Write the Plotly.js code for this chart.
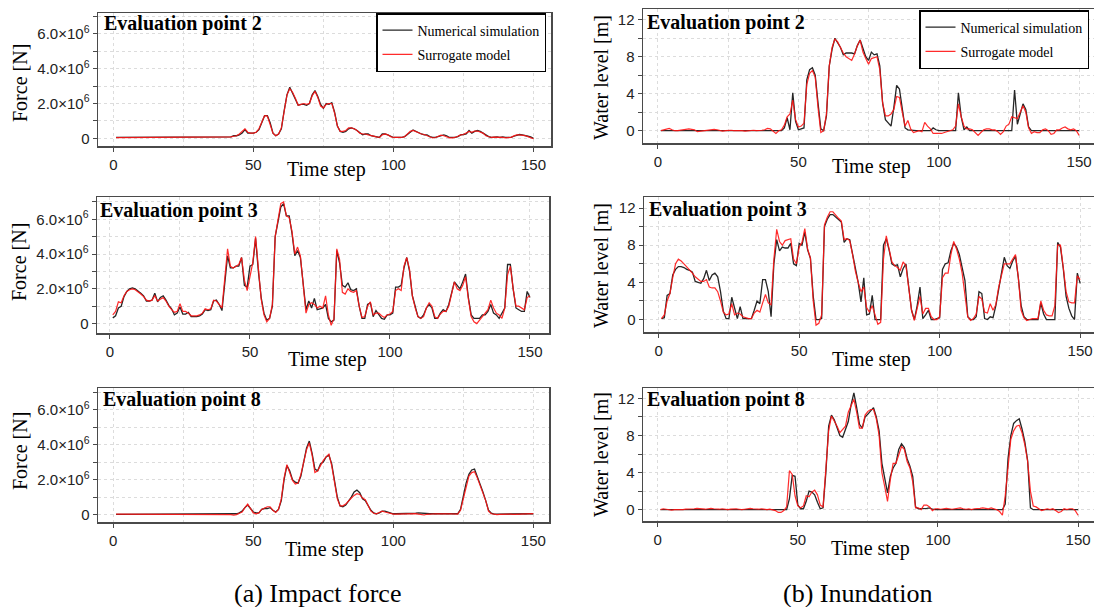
<!DOCTYPE html>
<html><head><meta charset="utf-8">
<script src="https://cdn.plot.ly/plotly-3.0.1.min.js"></script>
<style>html,body{margin:0;padding:0;overflow:hidden;background:#fff}#chart{width:1100px;height:607px}</style>
</head><body><div id="chart"></div><script>
// time steps 1..150 (index of the simulation output)
const timeSteps = Array.from({length:150},(_,i)=>i+1);

// ---- Impact force (units: 10^6 N) ----
const forceEP2_num = [0.05,0.05,0.05,0.05,0.05,0.05,0.05,0.05,0.05,0.05,
 0.05,0.05,0.05,0.06,0.06,0.07,0.07,0.07,0.06,0.06,
 0.05,0.05,0.05,0.05,0.05,0.04,0.04,0.04,0.05,0.05,
 0.05,0.05,0.05,0.05,0.05,0.05,0.05,0.05,0.05,0.06,
 0.07,0.08,0.15,0.15,0.2,0.3,0.5,0.3,0.3,0.3,
 0.35,0.5,0.9,1.3,1.3,0.9,0.3,0.15,0.25,0.55,
 1.6,2.5,2.93,2.6,2.2,1.9,1.95,1.95,1.9,2.0,
 2.5,2.74,2.4,1.95,1.72,2.0,1.95,2.05,1.5,0.7,
 0.4,0.35,0.4,0.55,0.6,0.55,0.45,0.3,0.2,0.25,
 0.25,0.15,0.12,0.1,0.05,0.25,0.25,0.2,0.1,0.05,
 0.05,0.05,0.05,0.1,0.2,0.35,0.48,0.4,0.3,0.25,
 0.2,0.2,0.1,0.05,0.05,0.1,0.15,0.2,0.15,0.05,
 0.05,0.05,0.1,0.2,0.22,0.25,0.45,0.3,0.4,0.45,
 0.4,0.3,0.15,0.1,0.05,0.08,0.08,0.05,0.08,0.05,
 0.05,0.05,0.12,0.18,0.22,0.2,0.18,0.12,0.08,0.0];
const forceEP2_sur = [0.04,0.04,0.04,0.05,0.05,0.05,0.04,0.04,0.05,0.05,
 0.05,0.05,0.06,0.06,0.07,0.07,0.07,0.06,0.06,0.05,
 0.05,0.05,0.05,0.04,0.04,0.04,0.04,0.05,0.05,0.05,
 0.05,0.05,0.04,0.04,0.05,0.05,0.05,0.05,0.05,0.06,
 0.07,0.08,0.12,0.15,0.25,0.4,0.55,0.35,0.3,0.3,
 0.35,0.55,0.95,1.3,1.28,0.85,0.3,0.15,0.25,0.6,
 1.7,2.5,2.85,2.65,2.3,1.9,1.95,2.0,1.95,2.0,
 2.45,2.7,2.35,1.85,1.75,1.95,2.0,2.0,1.45,0.7,
 0.4,0.4,0.45,0.6,0.6,0.55,0.45,0.3,0.25,0.25,
 0.2,0.15,0.12,0.08,0.05,0.2,0.25,0.2,0.1,0.05,
 0.05,0.05,0.05,0.1,0.25,0.4,0.45,0.38,0.3,0.25,
 0.22,0.15,0.08,0.02,0.05,0.12,0.18,0.15,0.1,0.03,
 0.03,0.05,0.12,0.2,0.22,0.3,0.4,0.35,0.42,0.42,
 0.38,0.3,0.15,0.08,0.05,0.07,0.08,0.06,0.06,0.03,
 0.03,0.06,0.14,0.2,0.2,0.2,0.16,0.1,0.05,-0.02];
const forceEP3_num = [0.33,0.45,0.9,1.0,1.55,1.85,2.0,2.05,2.0,1.9,
 1.75,1.6,1.3,1.3,1.35,1.75,1.25,1.5,1.6,1.35,
 1.05,0.85,0.5,0.6,0.95,0.55,0.55,0.65,0.4,0.4,
 0.4,0.45,0.55,0.8,0.75,0.8,1.3,1.35,1.1,0.75,
 2.5,3.9,3.2,3.2,3.3,3.3,3.8,2.2,2.1,3.3,
 3.4,4.9,3.0,1.5,0.6,0.2,0.3,1.0,5.0,5.8,
 6.7,6.9,6.2,6.2,5.2,3.9,4.2,3.8,2.3,0.8,
 1.3,0.9,1.45,0.8,0.85,0.9,1.1,0.3,0.1,0.2,
 4.2,3.5,2.2,2.1,2.35,1.95,1.9,2.0,1.0,0.3,
 0.3,1.1,1.2,0.4,0.75,0.55,0.3,0.25,0.5,0.5,
 0.6,2.1,2.1,2.2,3.2,3.8,3.0,1.6,1.0,0.4,
 0.3,0.5,0.9,1.1,0.9,0.3,0.3,0.6,0.8,0.7,
 1.1,1.7,2.4,2.2,2.0,2.4,2.85,1.5,0.5,0.3,
 0.3,0.3,0.5,0.5,0.7,1.1,0.6,0.5,0.3,0.6,
 0.9,3.4,3.4,2.0,0.9,0.8,0.7,0.7,1.85,1.5];
const forceEP3_sur = [0.5,0.7,1.25,1.2,1.6,1.85,1.95,2.0,1.95,1.85,
 1.7,1.55,1.35,1.3,1.35,1.6,1.3,1.4,1.5,1.3,
 1.0,0.8,0.65,0.7,1.15,0.7,0.7,0.6,0.45,0.45,
 0.45,0.5,0.6,0.85,0.8,0.85,1.35,1.3,1.1,0.9,
 2.6,4.3,3.3,3.2,3.3,3.4,3.8,2.5,1.9,2.8,
 3.5,5.0,3.1,1.4,0.5,0.1,0.3,1.1,5.0,5.9,
 6.9,7.0,6.2,6.1,5.3,4.0,4.4,3.9,2.2,0.6,
 1.1,1.2,1.1,0.9,1.0,0.9,1.6,0.5,-0.1,0.3,
 4.3,3.7,1.8,1.7,2.0,1.85,1.8,1.9,1.0,0.35,
 0.4,1.0,1.25,0.5,0.6,0.6,0.45,0.35,0.5,0.55,
 0.7,1.9,2.0,1.9,3.3,3.8,3.1,1.6,0.9,0.4,
 0.3,0.4,0.9,1.2,1.0,0.4,0.3,0.55,0.7,0.7,
 1.0,1.7,2.4,2.0,1.9,2.2,2.7,1.4,0.4,0.1,
 0.0,0.2,0.4,0.6,0.8,1.35,0.9,0.6,0.5,0.3,
 0.9,2.8,3.3,2.0,1.0,1.0,0.9,0.8,1.5,1.6];
const forceEP8_num = [0.02,0.02,0.02,0.02,0.02,0.02,0.02,0.02,0.02,0.02,
 0.02,0.02,0.02,0.02,0.02,0.03,0.03,0.03,0.02,0.02,
 0.02,0.02,0.02,0.02,0.02,0.02,0.02,0.02,0.02,0.02,
 0.02,0.02,0.02,0.02,0.02,0.02,0.02,0.02,0.02,0.02,
 0.02,0.02,0.03,0.05,0.1,0.2,0.4,0.55,0.35,0.15,
 0.1,0.1,0.3,0.35,0.35,0.4,0.25,0.15,0.3,0.8,
 2.0,2.8,2.5,2.0,1.85,1.8,2.2,3.0,3.8,4.2,
 3.5,2.6,2.5,2.9,3.0,3.3,3.4,2.9,2.0,1.0,
 0.5,0.45,0.55,0.75,1.0,1.3,1.4,1.25,0.9,0.8,
 0.5,0.25,0.1,0.05,0.1,0.2,0.2,0.15,0.08,0.05,
 0.05,0.05,0.05,0.05,0.05,0.05,0.06,0.08,0.1,0.08,
 0.05,0.05,0.05,0.05,0.05,0.05,0.05,0.05,0.05,0.05,
 0.05,0.05,0.05,0.3,1.0,1.8,2.3,2.55,2.6,2.2,
 1.7,1.3,0.8,0.25,0.08,0.03,0.03,0.03,0.03,0.03,
 0.03,0.03,0.03,0.03,0.03,0.03,0.03,0.04,0.04,0.05];
const forceEP8_sur = [0.03,0.03,0.02,0.02,0.03,0.03,0.02,0.02,0.02,0.03,
 0.03,0.02,0.02,0.03,0.03,0.03,0.04,0.03,0.03,0.02,
 0.02,0.02,0.03,0.03,0.02,0.02,0.02,0.03,0.03,0.02,
 0.02,0.03,0.03,0.02,0.02,0.02,0.03,0.03,0.02,0.02,
 0.02,0.0,-0.03,0.0,0.08,0.15,0.4,0.6,0.35,0.1,
 0.05,0.1,0.3,0.4,0.45,0.45,0.25,0.12,0.3,0.9,
 2.1,2.85,2.45,1.95,1.75,1.8,2.3,3.1,3.7,4.1,
 3.4,2.4,2.5,2.8,3.1,3.3,3.45,2.8,1.9,0.9,
 0.5,0.5,0.6,0.8,0.95,1.1,1.2,1.15,0.95,0.85,
 0.5,0.2,0.08,0.05,0.12,0.2,0.15,0.1,0.05,0.03,
 0.03,0.04,0.05,0.05,0.04,0.04,0.06,0.06,0.03,0.0,
 -0.02,0.02,0.04,0.05,0.05,0.04,0.03,0.03,0.04,0.05,
 0.04,0.03,0.03,0.25,0.9,1.7,2.2,2.4,2.45,2.1,
 1.7,1.3,0.8,0.2,0.05,0.03,0.0,0.02,0.03,0.03,
 0.04,0.03,0.02,0.03,0.04,0.04,0.05,0.05,0.05,0.06];

// ---- Inundation (water level, m) ----
const waterEP2_num = [0,0,0,0,0,0,0,0,0,0,
 0,0,0,0,0,0,0,0,0,0,
 0,0,0,0,0,0,0,0,0,0,
 0,0,0,0,0,0,0,0,0,0,
 0,0,0,0,0.3,1.4,0.1,4.1,1.0,0.1,
 0.2,0.3,5.5,6.6,6.8,6.0,3.0,0.2,0,1.6,
 7.0,8.8,10.0,9.5,9.0,8.2,8.4,8.4,8.4,8.3,
 9.2,9.8,8.9,8.0,7.6,8.5,8.2,8.3,7.0,3.0,
 1.2,0.8,0.5,2.5,4.9,4.5,2.2,0.3,0.1,0.05,
 0,0,0,0,0,0,0,0.3,0.1,0,
 0,0,0,0,0,0,4.1,1.5,0.1,0.4,
 0,0,0,0,0,0,0,0,0,0,
 0,0,0,0,0,0,4.4,0.7,1.8,2.9,
 2.3,0.4,0,0,0,0,0,0,0,0,
 0,0,0,0,0,0,0,0,0,0];
const waterEP2_sur = [0,0.1,0.2,0.25,0.1,0,0,0.05,0.1,0.15,
 0.2,0.15,0.1,-0.1,-0.05,0,0.05,0.05,0.1,0.15,
 0.1,0.05,-0.05,0,0.05,0.05,0,0,0.05,0,
 -0.05,0,0.05,0.05,0,0,0.05,0.1,0.25,0.2,
 -0.1,-0.3,0,0.1,0.6,1.5,1.8,3.3,1.2,0.4,
 0.5,0.8,5.0,6.2,6.5,5.8,2.5,-0.2,0.0,1.8,
 7.0,9.0,9.9,9.6,9.0,8.4,8.0,7.8,7.6,8.3,
 9.2,9.8,8.5,7.8,7.2,7.8,7.9,8.0,6.6,3.0,
 1.6,1.6,1.8,2.3,3.7,3.6,2.0,0.5,1.1,0.2,
 -0.2,-0.1,0,-0.1,0.9,0.5,0.2,-0.3,-0.3,-0.3,
 -0.3,-0.2,-0.1,0,0.1,0.5,2.9,1.5,0.5,0.2,
 0.2,0.1,-0.2,-0.5,-0.2,0.1,0.2,0.2,0.1,0.1,
 -0.1,-0.4,-0.1,0.5,0.7,1.5,1.4,1.3,2.0,2.7,
 2.0,0.3,-0.3,-0.1,-0.2,-0.2,0.1,0.2,0,-0.4,
 -0.3,0.1,0.1,0.3,0.4,0.2,0.1,0.2,0,-0.5];
const waterEP3_num = [0.1,0.2,2.6,2.8,4.8,5.4,5.7,5.7,5.6,5.4,
 5.3,5.1,4.1,4.0,3.9,4.4,5.3,4.2,4.8,5.0,
 4.6,3.0,0.9,0.1,0.1,2.4,1.2,0.1,1.4,0.1,
 0.1,0.1,0.1,1.0,2.0,1.7,4.3,4.3,3.0,0.3,
 6.0,8.6,7.4,7.8,7.7,7.7,8.2,6.0,5.8,8.2,
 8.0,9.4,7.5,6.6,2.5,0.0,0.0,0.1,10.0,10.8,
 11.3,11.3,11.0,10.8,10.5,8.3,8.7,8.6,7.0,5.3,
 4.0,1.9,4.5,0.5,0.6,2.6,0.0,0.0,0.0,8.0,
 8.7,7.5,6.0,5.8,5.9,4.6,5.5,6.0,3.4,1.0,
 0.0,1.5,3.5,0.1,0.5,1.0,0.0,0.0,0.1,0.2,
 5.4,6.0,6.1,7.4,8.2,7.8,7.0,5.5,4.2,0.3,
 0.0,0.0,0.3,3.0,2.8,0.1,0.0,0.3,0.2,1.5,
 3.5,5.0,6.7,5.8,5.5,6.3,6.8,4.5,1.5,0.3,
 0.0,0.0,0.0,0.0,0.0,1.8,0.6,0.0,0.0,0.0,
 0.0,8.3,7.8,5.5,2.5,1.2,0.4,0.0,5.0,3.9];
const waterEP3_sur = [0.1,0.5,2.0,2.8,4.5,6.0,6.5,6.3,6.0,5.7,
 5.4,5.0,4.6,4.3,4.1,4.1,4.3,3.5,3.4,3.4,
 3.0,2.0,0.8,0.5,0.6,1.7,0.5,0.7,0.6,0.3,
 0.2,0.1,0.1,0.7,1.0,0.8,1.8,2.7,1.8,1.6,
 6.5,9.7,8.4,8.0,8.5,8.6,8.7,6.5,6.0,7.8,
 8.3,9.8,7.6,6.6,2.0,-0.6,-0.4,0.5,10.2,11.0,
 11.6,11.6,11.2,10.9,10.6,8.6,8.7,8.5,7.0,5.2,
 4.0,3.0,3.5,1.3,0.8,1.5,0.5,-0.5,-0.3,6.5,
 9.0,7.5,6.2,5.8,5.6,5.3,6.2,5.8,3.4,1.0,
 -0.1,1.2,2.5,0.6,1.2,1.2,0.3,0.0,0.0,0.3,
 4.5,5.0,5.0,7.0,8.4,7.6,6.5,5.0,2.5,0.3,
 -0.1,0.1,0.6,2.5,2.2,0.8,0.7,1.7,1.0,1.6,
 3.5,4.8,6.0,6.0,6.0,6.5,7.0,4.5,1.0,0.2,
 -0.1,0.0,0.1,0.1,0.1,2.0,1.0,0.5,0.4,0.4,
 1.5,8.0,8.0,5.6,3.0,1.9,1.8,1.8,4.7,4.3];
const waterEP8_num = [0,0,0,0,0,0,0,0,0,0,
 0,0,0,0,0,0,0,0,0,0,
 0,0,0,0,0,0,0,0,0,0,
 0,0,0,0,0,0,0,0,0,0,
 0,0,0,0,0,0,1.2,3.7,3.6,0.5,
 0.1,0.1,0.9,2.0,1.9,1.6,0.8,0.1,0.2,4.0,
 9.0,10.2,9.7,8.8,8.0,7.8,8.7,9.5,11.3,12.6,
 11.0,9.2,8.8,10.0,10.3,10.7,11.0,10.0,8.5,5.0,
 3.2,1.8,3.6,4.5,5.0,6.5,7.1,6.7,5.5,4.7,
 3.6,0.3,0.1,0.1,0.1,0.15,0.2,0.05,0,0,
 0,0,0,0,0,0,0,0,0,0,
 0,0,0,0,0,0,0,0,0,0,
 0,0,0,0.6,5.5,8.0,9.3,9.6,9.8,8.7,
 7.3,5.3,0.2,0,0,0,0,0,0,0,
 0,0,0,0,0,0,0,0,0,0];
const waterEP8_sur = [0.0,0.1,0.05,0.0,-0.05,0.0,0.0,-0.05,0.0,0.05,
 0.05,0.1,0.1,0.15,0.1,0.1,0.05,0.1,0.15,0.1,
 0.05,0.05,0.1,0.05,0.0,0.05,0.1,0.1,0.05,0.0,
 0.05,0.1,0.15,0.1,0.05,0.05,0.1,0.05,0.0,0.05,
 0.0,-0.1,-0.3,-0.3,-0.1,0.3,4.2,3.8,1.5,0.4,
 0.2,0.4,1.5,1.4,1.9,2.1,1.6,0.5,0.3,4.0,
 8.5,10.1,9.6,9.0,8.3,8.6,9.0,10.5,11.3,11.9,
 10.5,8.8,8.8,10.2,10.6,10.8,10.8,9.8,8.0,4.0,
 2.5,0.9,3.2,5.0,5.0,6.0,6.8,6.5,5.2,4.5,
 3.0,0.2,0.2,0.0,0.5,0.5,0.3,-0.1,0.1,0.1,
 0.05,0.1,0.15,0.1,0.05,0.1,0.15,0.2,0.1,0.05,
 0.1,0.0,0.1,0.1,0.15,0.2,0.15,0.1,0.2,0.1,
 0.0,-0.2,-0.6,1.5,5.0,7.6,8.5,9.0,9.1,8.3,
 7.0,5.2,2.0,0.4,0.3,0.1,-0.1,0.0,0.1,0.0,
 0.1,-0.1,-0.3,-0.2,0.1,0.0,0.1,0.1,-0.1,-0.6];

// ---- labels ----
const panelTitles = ['Evaluation point 2','Evaluation point 2','Evaluation point 3','Evaluation point 3','Evaluation point 8','Evaluation point 8'];
const seriesNames = ['Numerical simulation','Surrogate model'];
const xTitle = 'Time step';
const yTitles = ['Force [N]','Water level [m]'];
const stepTickVals = [0,50,100,150];
const forceTickVals = [0,2e6,4e6,6e6];
const forceTickText = ['0','2.0×10<sup>6</sup>','4.0×10<sup>6</sup>','6.0×10<sup>6</sup>'];
const waterTickVals = [0,4,8,12];
const captions = ['(a) Impact force','(b) Inundation'];

const W = 1100, H = 607;
const xd = (a,b)=>[a/W,b/W];
const yd = (t,b)=>[1-b/H,1-t/H];
const serif = 'Liberation Serif, Times New Roman, serif';
const sans = 'Liberation Sans, Arial, sans-serif';
const MN = arr=>arr.map(v=>v*1e6);
const LINE = '#4a4a4a', GRID = '#dcdcdc';

function xAxis(dom, range, anchor){
  return {domain:dom, range:range, anchor:anchor, showline:true, mirror:true, linecolor:LINE, linewidth:1.5,
    ticks:'outside', ticklen:4, tickcolor:LINE, tickmode:'array', tickvals:stepTickVals,
    tickfont:{family:sans,size:15,color:'#222'}, showgrid:true, gridcolor:GRID, griddash:'dot', gridwidth:1,
    zeroline:false, fixedrange:true,
    minor:{tickmode:'array', tickvals:[25,75,125], showgrid:true, gridcolor:GRID, griddash:'dot', ticks:''}};
}
function yAxis(dom, range, anchor, isForce){
  return {domain:dom, range:range, anchor:anchor, showline:true, mirror:true, linecolor:LINE, linewidth:1.5,
    ticks:'outside', ticklen:4, tickcolor:LINE, tickmode:'array',
    tickvals: isForce ? forceTickVals : waterTickVals,
    ticktext: isForce ? forceTickText : waterTickVals.map(String),
    tickfont:{family:sans,size:15,color:'#222'}, showgrid:true, gridcolor:GRID, griddash:'dot', gridwidth:1,
    zeroline:false, fixedrange:true,
    minor:{tickmode:'array', tickvals: isForce ? [1e6,3e6,5e6,7e6] : [2,6,10], ticks:'outside', ticklen:4, tickcolor:LINE,
      showgrid:true, gridcolor:GRID, griddash:'dot'}};
}

const panels = [
  {num:MN(forceEP2_num), sur:MN(forceEP2_sur), ax:'', leg:'legend'},
  {num:waterEP2_num, sur:waterEP2_sur, ax:'2', leg:'legend2'},
  {num:MN(forceEP3_num), sur:MN(forceEP3_sur), ax:'3', leg:null},
  {num:waterEP3_num, sur:waterEP3_sur, ax:'4', leg:null},
  {num:MN(forceEP8_num), sur:MN(forceEP8_sur), ax:'5', leg:null},
  {num:waterEP8_num, sur:waterEP8_sur, ax:'6', leg:null}
];
const traces = [];
panels.forEach((p,i)=>{
  const base = {x:timeSteps, xaxis:'x'+p.ax, yaxis:'y'+p.ax, mode:'lines', hoverinfo:'skip'};
  traces.push(Object.assign({}, base, {y:p.num, name:seriesNames[0], line:{color:'#262626',width:1.3},
    showlegend:!!p.leg, legend:p.leg||'legend', legendgroup:'n'+i}));
  traces.push(Object.assign({}, base, {y:p.sur, name:seriesNames[1], line:{color:'#ff1414',width:1.2}, opacity:0.9,
    showlegend:!!p.leg, legend:p.leg||'legend', legendgroup:'s'+i}));
});

const legendStyle = {xanchor:'left', yanchor:'top', bordercolor:'#000', borderwidth:1.5, bgcolor:'#fff',
  font:{family:serif,size:14,color:'#000'}, traceorder:'grouped', tracegroupgap:3, itemclick:false, itemdoubleclick:false};

const ann = (text,x,y,opts)=>Object.assign({text:text, xref:'paper', yref:'paper', x:x/W, y:1-y/H,
  xanchor:'center', yanchor:'middle', showarrow:false, font:{family:serif,size:20,color:'#000'}}, opts||{});

const titlePos = [[102,23],[645,22],[98,210],[647,209],[101,400],[645,399]];
const annotations = panelTitles.map((t,i)=>ann('<b>'+t+'</b>', titlePos[i][0], titlePos[i][1], {xanchor:'left'}));
// x-axis titles
[[326,169],[871,167],[327,359],[871,359],[324,549],[870,548]].forEach(p=>annotations.push(ann(xTitle,p[0],p[1])));
// y-axis titles
[[20,83,0],[601,78,1],[19,262,0],[601,266,1],[20,451,0],[601,455,1]].forEach(p=>annotations.push(ann(yTitles[p[2]],p[0],p[1],{textangle:-90})));
annotations.push(ann(captions[0],317,593,{font:{family:serif,size:26,color:'#000'}}));
annotations.push(ann(captions[1],857,593,{font:{family:serif,size:26,color:'#000'}}));

const layout = {
  width:W, height:H, margin:{l:0,r:0,t:0,b:0}, paper_bgcolor:'#fff', plot_bgcolor:'#fff',
  showlegend:true,
  legend:Object.assign({x:376/W, y:1-13/H}, legendStyle),
  legend2:Object.assign({x:919/W, y:1-10/H}, legendStyle),
  xaxis: xAxis(xd(98,551), [-5.46,156.25], 'y'),
  yaxis: yAxis(yd(13,146), [-0.44e6,7.2e6], 'x', true),
  xaxis2: xAxis(xd(643,1097), [-5.34,156.36], 'y2'),
  yaxis2: yAxis(yd(9,143), [-1.33,13.16], 'x2', false),
  xaxis3: xAxis(xd(97,549), [-4.64,156.8], 'y3'),
  yaxis3: yAxis(yd(197,333), [-0.54e6,7.28e6], 'x3', true),
  xaxis4: xAxis(xd(644,1097), [-5.23,156.0], 'y4'),
  yaxis4: yAxis(yd(197,332), [-1.34,13.19], 'x4', false),
  xaxis5: xAxis(xd(98,549), [-5.46,155.6], 'y5'),
  yaxis5: yAxis(yd(388,522), [-0.42e6,7.23e6], 'x5', true),
  xaxis6: xAxis(xd(643,1097), [-5.25,156.75], 'y6'),
  yaxis6: yAxis(yd(388,521), [-1.22,13.12], 'x6', false),
  annotations: annotations
};
Plotly.newPlot('chart', traces, layout, {displayModeBar:false, staticPlot:true});
</script></body></html>
